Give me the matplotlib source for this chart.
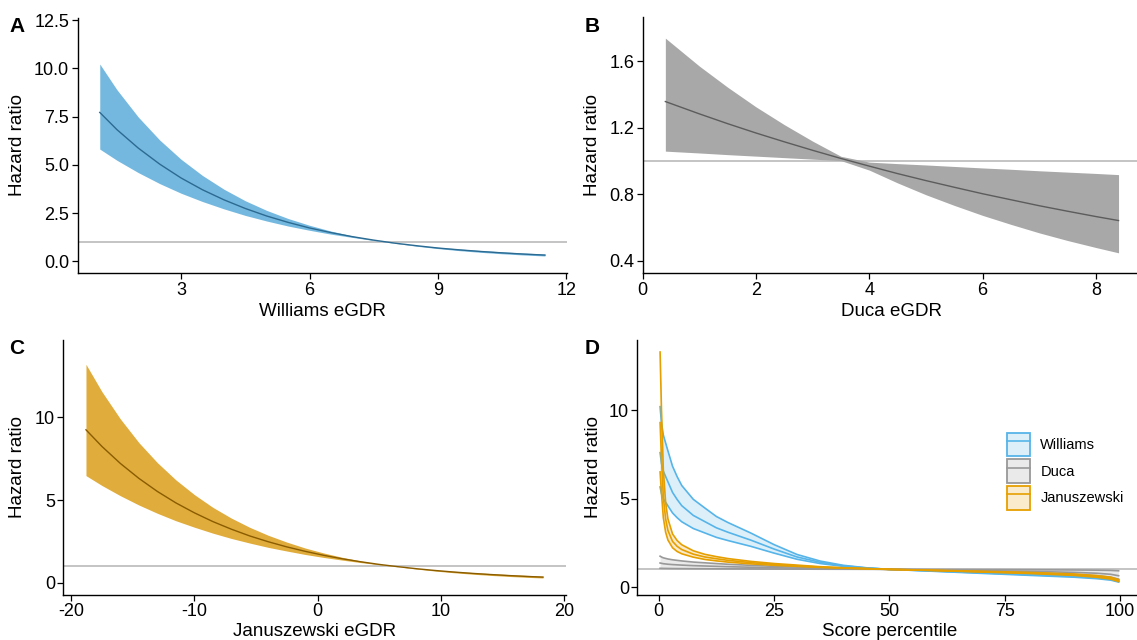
import matplotlib
matplotlib.use("Agg")
import matplotlib.pyplot as plt
from matplotlib.patches import Patch
from matplotlib.lines import Line2D
from matplotlib.ticker import FormatStrFormatter

plt.rcParams['font.family'] = ['Liberation Sans', 'DejaVu Sans']
plt.rcParams['axes.unicode_minus'] = False

# ---------------- data ----------------
# Panel A: Williams eGDR
williams_x = [1.1, 1.5, 2.0, 2.5, 3.0, 3.5, 4.0, 4.5, 5.0, 5.5, 6.0, 6.5, 7.0, 7.5,
              8.0, 8.5, 9.0, 9.5, 10.0, 10.5, 11.0, 11.5]
williams_hr = [7.72, 6.83, 5.87, 5.04, 4.32, 3.71, 3.19, 2.74, 2.35, 2.02, 1.73, 1.49,
               1.28, 1.10, 0.94, 0.81, 0.69, 0.595, 0.511, 0.439, 0.377, 0.324]
williams_lo = [5.82, 5.24, 4.60, 4.03, 3.53, 3.10, 2.72, 2.38, 2.09, 1.83, 1.61, 1.41,
               1.24, 1.08, 0.933, 0.784, 0.66, 0.554, 0.466, 0.392, 0.329, 0.277]
williams_hi = [10.23, 8.90, 7.48, 6.29, 5.29, 4.45, 3.74, 3.14, 2.64, 2.22, 1.87, 1.57,
               1.32, 1.11, 0.949, 0.832, 0.73, 0.64, 0.561, 0.492, 0.431, 0.378]

# Panel B: Duca eGDR
duca_x = [0.4, 1.0, 1.5, 2.0, 2.5, 3.0, 3.5, 4.0, 4.5, 5.0, 5.5, 6.0, 6.5, 7.0, 7.5, 8.0, 8.4]
duca_hr = [1.358, 1.284, 1.225, 1.169, 1.116, 1.065, 1.016, 0.970, 0.925, 0.883, 0.843,
           0.804, 0.768, 0.732, 0.699, 0.667, 0.643]
duca_lo = [1.060, 1.049, 1.039, 1.030, 1.021, 1.012, 1.003, 0.946, 0.869, 0.798, 0.734,
           0.674, 0.620, 0.569, 0.523, 0.481, 0.449]
duca_hi = [1.739, 1.571, 1.444, 1.326, 1.219, 1.120, 1.029, 0.994, 0.985, 0.977, 0.968,
           0.959, 0.951, 0.942, 0.934, 0.926, 0.919]

# Panel C: Januszewski eGDR
janus_x = [-18.8, -17.5, -16.0, -14.5, -13.0, -11.5, -10.0, -8.5, -7.0, -5.5, -4.0, -2.5,
           -1.0, 0.5, 2.0, 3.5, 5.0, 6.5, 8.0, 9.5, 11.0, 12.5, 14.0, 15.5, 17.0, 18.3]
janus_hr = [9.25, 8.24, 7.21, 6.31, 5.52, 4.83, 4.23, 3.70, 3.24, 2.83, 2.48, 2.17, 1.90,
            1.66, 1.45, 1.27, 1.11, 0.974, 0.852, 0.745, 0.652, 0.571, 0.500, 0.437,
            0.382, 0.341]
janus_lo = [6.48, 5.88, 5.26, 4.70, 4.20, 3.75, 3.36, 3.00, 2.68, 2.40, 2.14, 1.92, 1.71,
            1.53, 1.37, 1.22, 1.09, 0.969, 0.830, 0.711, 0.609, 0.522, 0.447, 0.383,
            0.328, 0.287]
janus_hi = [13.21, 11.55, 9.90, 8.47, 7.26, 6.22, 5.33, 4.56, 3.91, 3.35, 2.87, 2.46, 2.10,
            1.80, 1.54, 1.32, 1.13, 0.978, 0.874, 0.781, 0.699, 0.624, 0.558, 0.499,
            0.446, 0.405]

# Panel D: by score percentile
pct = [0.3, 0.6, 1, 1.5, 2, 3, 4, 5, 7.5, 10, 12.5, 15, 20, 25, 30, 35, 40, 45, 50,
       60, 70, 80, 90, 95, 98, 99.7]
pct_williams_hr = [7.6, 7.0, 6.55, 6.25, 5.95, 5.35, 4.95, 4.6, 4.05, 3.7, 3.35, 3.1, 2.65,
                   2.15, 1.7, 1.4, 1.2, 1.08, 1.0, 0.9, 0.8, 0.7, 0.6, 0.52, 0.44, 0.33]
pct_williams_lo = [5.66, 5.28, 4.99, 4.79, 4.59, 4.19, 3.92, 3.69, 3.31, 3.06, 2.81, 2.63,
                   2.30, 1.92, 1.57, 1.33, 1.17, 1.07, 1.0, 0.886, 0.774, 0.665, 0.557,
                   0.473, 0.391, 0.281]
pct_williams_hi = [10.2, 9.28, 8.60, 8.15, 7.70, 6.83, 6.24, 5.74, 4.96, 4.47, 3.99, 3.65,
                   3.05, 2.40, 1.84, 1.47, 1.23, 1.09, 1.0, 0.914, 0.826, 0.737, 0.646,
                   0.572, 0.496, 0.388]
pct_duca_hr = [1.36, 1.34, 1.32, 1.305, 1.29, 1.27, 1.255, 1.24, 1.21, 1.19, 1.17, 1.15,
               1.12, 1.09, 1.07, 1.05, 1.03, 1.015, 1.0, 0.97, 0.93, 0.89, 0.83, 0.78,
               0.72, 0.64]
pct_duca_lo = [1.060, 1.057, 1.054, 1.052, 1.050, 1.046, 1.044, 1.042, 1.037, 1.034, 1.030,
               1.027, 1.022, 1.017, 1.013, 1.009, 1.006, 1.003, 1.0, 0.946, 0.877, 0.810,
               0.714, 0.638, 0.552, 0.446]
pct_duca_hi = [1.745, 1.699, 1.653, 1.619, 1.586, 1.541, 1.508, 1.476, 1.412, 1.370, 1.329,
               1.288, 1.228, 1.169, 1.130, 1.092, 1.055, 1.027, 1.0, 0.994, 0.986, 0.978,
               0.965, 0.954, 0.940, 0.919]
pct_janus_hr = [9.3, 7.3, 5.1, 3.85, 3.2, 2.58, 2.3, 2.12, 1.86, 1.7, 1.6, 1.51, 1.38, 1.28,
                1.2, 1.13, 1.08, 1.04, 1.0, 0.94, 0.87, 0.8, 0.7, 0.6, 0.5, 0.36]
pct_janus_lo = [6.51, 5.31, 3.93, 3.10, 2.66, 2.22, 2.01, 1.88, 1.69, 1.56, 1.48, 1.41,
                1.31, 1.23, 1.17, 1.11, 1.07, 1.03, 1.0, 0.93, 0.85, 0.77, 0.66, 0.55,
                0.45, 0.31]
pct_janus_hi = [13.29, 10.03, 6.62, 4.78, 3.85, 3.00, 2.63, 2.39, 2.05, 1.85, 1.72, 1.61,
                1.45, 1.33, 1.24, 1.15, 1.09, 1.05, 1.0, 0.95, 0.89, 0.83, 0.74, 0.65,
                0.56, 0.42]

series_names = ["Williams", "Duca", "Januszewski"]
series_colors = ["#56B4E9", "#999999", "#E69F00"]

# ---------------- figure ----------------
W, H = 1137, 640
fig = plt.figure(figsize=(W / 100, H / 100), dpi=100)


def add_axes(x0, x1, ytop, ybot):
    return fig.add_axes([x0 / W, 1 - ybot / H, (x1 - x0) / W, (ybot - ytop) / H])


geom = {
    "A": (77.5, 567.2, 17.5, 273.3),
    "B": (642.7, 1141.2, 17.5, 273.3),
    "C": (63.3, 565.9, 340, 595),
    "D": (637.3, 1141.2, 340, 595),
}
axA = add_axes(*geom["A"])
axB = add_axes(*geom["B"])
axC = add_axes(*geom["C"])
axD = add_axes(*geom["D"])

TICK_FS = 13
LAB_FS = 13.5
REF_COLOR = "#C4C4C4"


def style(ax):
    for s in ["top", "right"]:
        ax.spines[s].set_visible(False)
    for s in ["left", "bottom"]:
        ax.spines[s].set_linewidth(1.0)
        ax.spines[s].set_color("black")
    ax.tick_params(direction="out", length=4, width=0.9, color="black",
                   labelsize=TICK_FS, labelcolor="black", pad=2)
    ax.axhline(1, color=REF_COLOR, lw=1.4, zorder=0.5)


def single(ax, x, lo, hi, mid, fill, line):
    ax.fill_between(x, lo, hi, color=fill, lw=0, zorder=1)
    ax.plot(x, mid, color=line, lw=1.0, zorder=2)


# Panel A
style(axA)
single(axA, williams_x, williams_lo, williams_hi, williams_hr, "#74B8E0", "#2C6A91")
axA.set_xlim(0.58, 12.02)
axA.set_ylim(-0.62, 12.64)
axA.set_xticks([3, 6, 9, 12])
axA.set_yticks([0, 2.5, 5, 7.5, 10, 12.5])
axA.yaxis.set_major_formatter(FormatStrFormatter("%.1f"))
axA.set_xlabel("Williams eGDR", fontsize=LAB_FS)
axA.set_ylabel("Hazard ratio", fontsize=LAB_FS)

# Panel B
style(axB)
single(axB, duca_x, duca_lo, duca_hi, duca_hr, "#A8A8A8", "#5C5C5C")
axB.set_xlim(0, 8.8)
axB.set_ylim(0.326, 1.863)
axB.set_xticks([0, 2, 4, 6, 8])
axB.set_yticks([0.4, 0.8, 1.2, 1.6])
axB.yaxis.set_major_formatter(FormatStrFormatter("%.1f"))
axB.set_xlabel("Duca eGDR", fontsize=LAB_FS)
axB.set_ylabel("Hazard ratio", fontsize=LAB_FS)

# Panel C
style(axC)
single(axC, janus_x, janus_lo, janus_hi, janus_hr, "#E0AC3C", "#8A5C00")
axC.set_xlim(-20.64, 20.16)
axC.set_ylim(-0.74, 14.68)
axC.set_xticks([-20, -10, 0, 10, 20])
axC.set_yticks([0, 5, 10])
axC.set_xlabel("Januszewski eGDR", fontsize=LAB_FS)
axC.set_ylabel("Hazard ratio", fontsize=LAB_FS)

# Panel D
style(axD)
d_series = [
    (pct_williams_lo, pct_williams_hi, pct_williams_hr),
    (pct_duca_lo, pct_duca_hi, pct_duca_hr),
    (pct_janus_lo, pct_janus_hi, pct_janus_hr),
]
handles = []
for i, ((lo, hi, mid), name, col) in enumerate(zip(d_series, series_names, series_colors)):
    z = 1 + i
    axD.fill_between(pct, lo, hi, color=col, alpha=0.2, lw=0, zorder=z)
    for arr in (lo, mid, hi):
        axD.plot(pct, arr, color=col, lw=1.2, zorder=z + 0.1)
    handles.append((Patch(facecolor=col, alpha=0.2, edgecolor="none"),
                    Patch(facecolor="none", edgecolor=col, linewidth=1.3),
                    Line2D([], [], color=col, lw=1.2)))
axD.set_xlim(-4.64, 104.6)
axD.set_ylim(-0.45, 13.97)
axD.set_xticks([0, 25, 50, 75, 100])
axD.set_yticks([0, 5, 10])
axD.set_xlabel("Score percentile", fontsize=LAB_FS)
axD.set_ylabel("Hazard ratio", fontsize=LAB_FS)
axD.legend(handles, series_names, loc="upper left",
           bbox_to_anchor=(1006.5 / W, 1 - 432.5 / H), bbox_transform=fig.transFigure,
           frameon=False, borderpad=0, borderaxespad=0, handlelength=1.64,
           handleheight=2.15, labelspacing=0.19, handletextpad=0.68, fontsize=10.5)

# axis-label positions (pixel -> axes fraction)
label_pos = {
    axA: (18, 312, geom["A"]),
    axB: (593, 312, geom["B"]),
    axC: (18, 632, geom["C"]),
    axD: (593, 632, geom["D"]),
}
for ax, (ylx, xly, (x0, x1, yt, yb)) in label_pos.items():
    ax.yaxis.set_label_coords((ylx - x0) / (x1 - x0), 0.5)
    ax.yaxis.label.set_va("center")
    ax.xaxis.set_label_coords(0.5, -(xly - yb) / (yb - yt))
    ax.xaxis.label.set_va("center")

for letter, (px, py) in zip("ABCD", [(17, 26), (592, 26), (17, 348), (592, 348)]):
    fig.text(px / W, 1 - py / H, letter, fontsize=15, fontweight="bold",
             ha="center", va="center")

fig.savefig("out.png", dpi=100)
